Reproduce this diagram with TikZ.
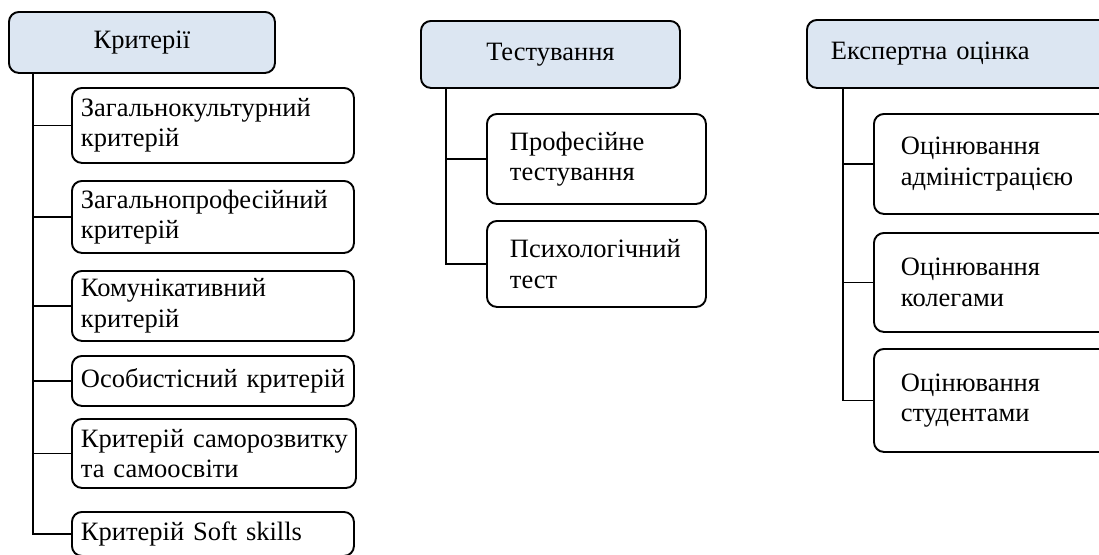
\documentclass[tikz,border=0pt]{standalone}
\usepackage{fontspec}
\setmainfont{Liberation Serif}
\definecolor{hdrblue}{HTML}{DCE6F2}
\tikzset{
  x=1pt, y=-1pt,
  conn/.style={draw=black, line width=1.9pt},
  basebox/.style={draw=black, line width=1.9pt, rounded corners=10pt, anchor=north west,
    inner ysep=0pt, font=\fontsize{26.5}{30.5}\selectfont, align=left},
  hdrbox/.style={basebox, fill=hdrblue},
  kidbox/.style={basebox, fill=white},
}
\begin{document}
\begin{tikzpicture}
\useasboundingbox (0,0) rectangle (1099,554);
\clip (0,0) rectangle (1099,554);
% column 1
\node[hdrbox, align=center, inner xsep=0pt, text width=266pt, minimum height=61pt] (h1) at (8,11) {Критерії};
\coordinate (t1) at (33,0);
\node[kidbox, inner xsep=9pt, text width=264pt, minimum height=75pt] (a1) at (71,87) {\mbox{Загальнокультурний}\\\mbox{критерій}};
\node[kidbox, inner xsep=9pt, text width=264pt, minimum height=72pt] (a2) at (71,180) {\mbox{Загальнопрофесійний}\\\mbox{критерій}};
\node[kidbox, inner xsep=9pt, text width=264pt, minimum height=70pt] (a3) at (71,270) {\mbox{Комунікативний}\\\mbox{критерій}};
\node[kidbox, inner xsep=9pt, text width=264pt, minimum height=50pt] (a4) at (71,355) {\mbox{Особистісний критерій}};
\node[kidbox, inner xsep=9pt, text width=266pt, minimum height=69pt] (a5) at (71,418) {\mbox{Критерій саморозвитку}\\\mbox{та самоосвіти}};
\node[kidbox, inner xsep=9pt, text width=264pt, minimum height=44pt] (a6) at (71,511) {\mbox{Критерій Soft skills}};
\foreach \k in {a1,a2,a3,a4,a5,a6} \draw[conn] (h1.south -| t1) |- (\k.west);
% column 2
\node[hdrbox, align=center, inner xsep=0pt, text width=259pt, minimum height=67pt] (h2) at (420,20) {Тестування};
\coordinate (t2) at (446,0);
\node[kidbox, inner xsep=23pt, text width=173pt, minimum height=90pt] (b1) at (486,113) {\mbox{Професійне}\\\mbox{тестування}};
\node[kidbox, inner xsep=23pt, text width=173pt, minimum height=86pt] (b2) at (486,220) {\mbox{Психологічний}\\\mbox{тест}};
\foreach \k in {b1,b2} \draw[conn] (h2.south -| t2) |- (\k.west);
% column 3
\node[hdrbox, inner xsep=24pt, text width=262pt, minimum height=68pt] (h3) at (806,19) {\mbox{Експертна оцінка}};
\coordinate (t3) at (843,0);
\node[kidbox, inner xsep=27pt, text width=186pt, minimum height=100pt] (c1) at (873,113) {\mbox{Оцінювання}\\\mbox{адміністрацією}};
\node[kidbox, inner xsep=27pt, text width=186pt, minimum height=99pt] (c2) at (873,232) {\mbox{Оцінювання}\\\mbox{колегами}};
\node[kidbox, inner xsep=27pt, text width=186pt, minimum height=103pt] (c3) at (873,348) {\mbox{Оцінювання}\\\mbox{студентами}};
\foreach \k in {c1,c2,c3} \draw[conn] (h3.south -| t3) |- (\k.west);
\end{tikzpicture}
\end{document}
